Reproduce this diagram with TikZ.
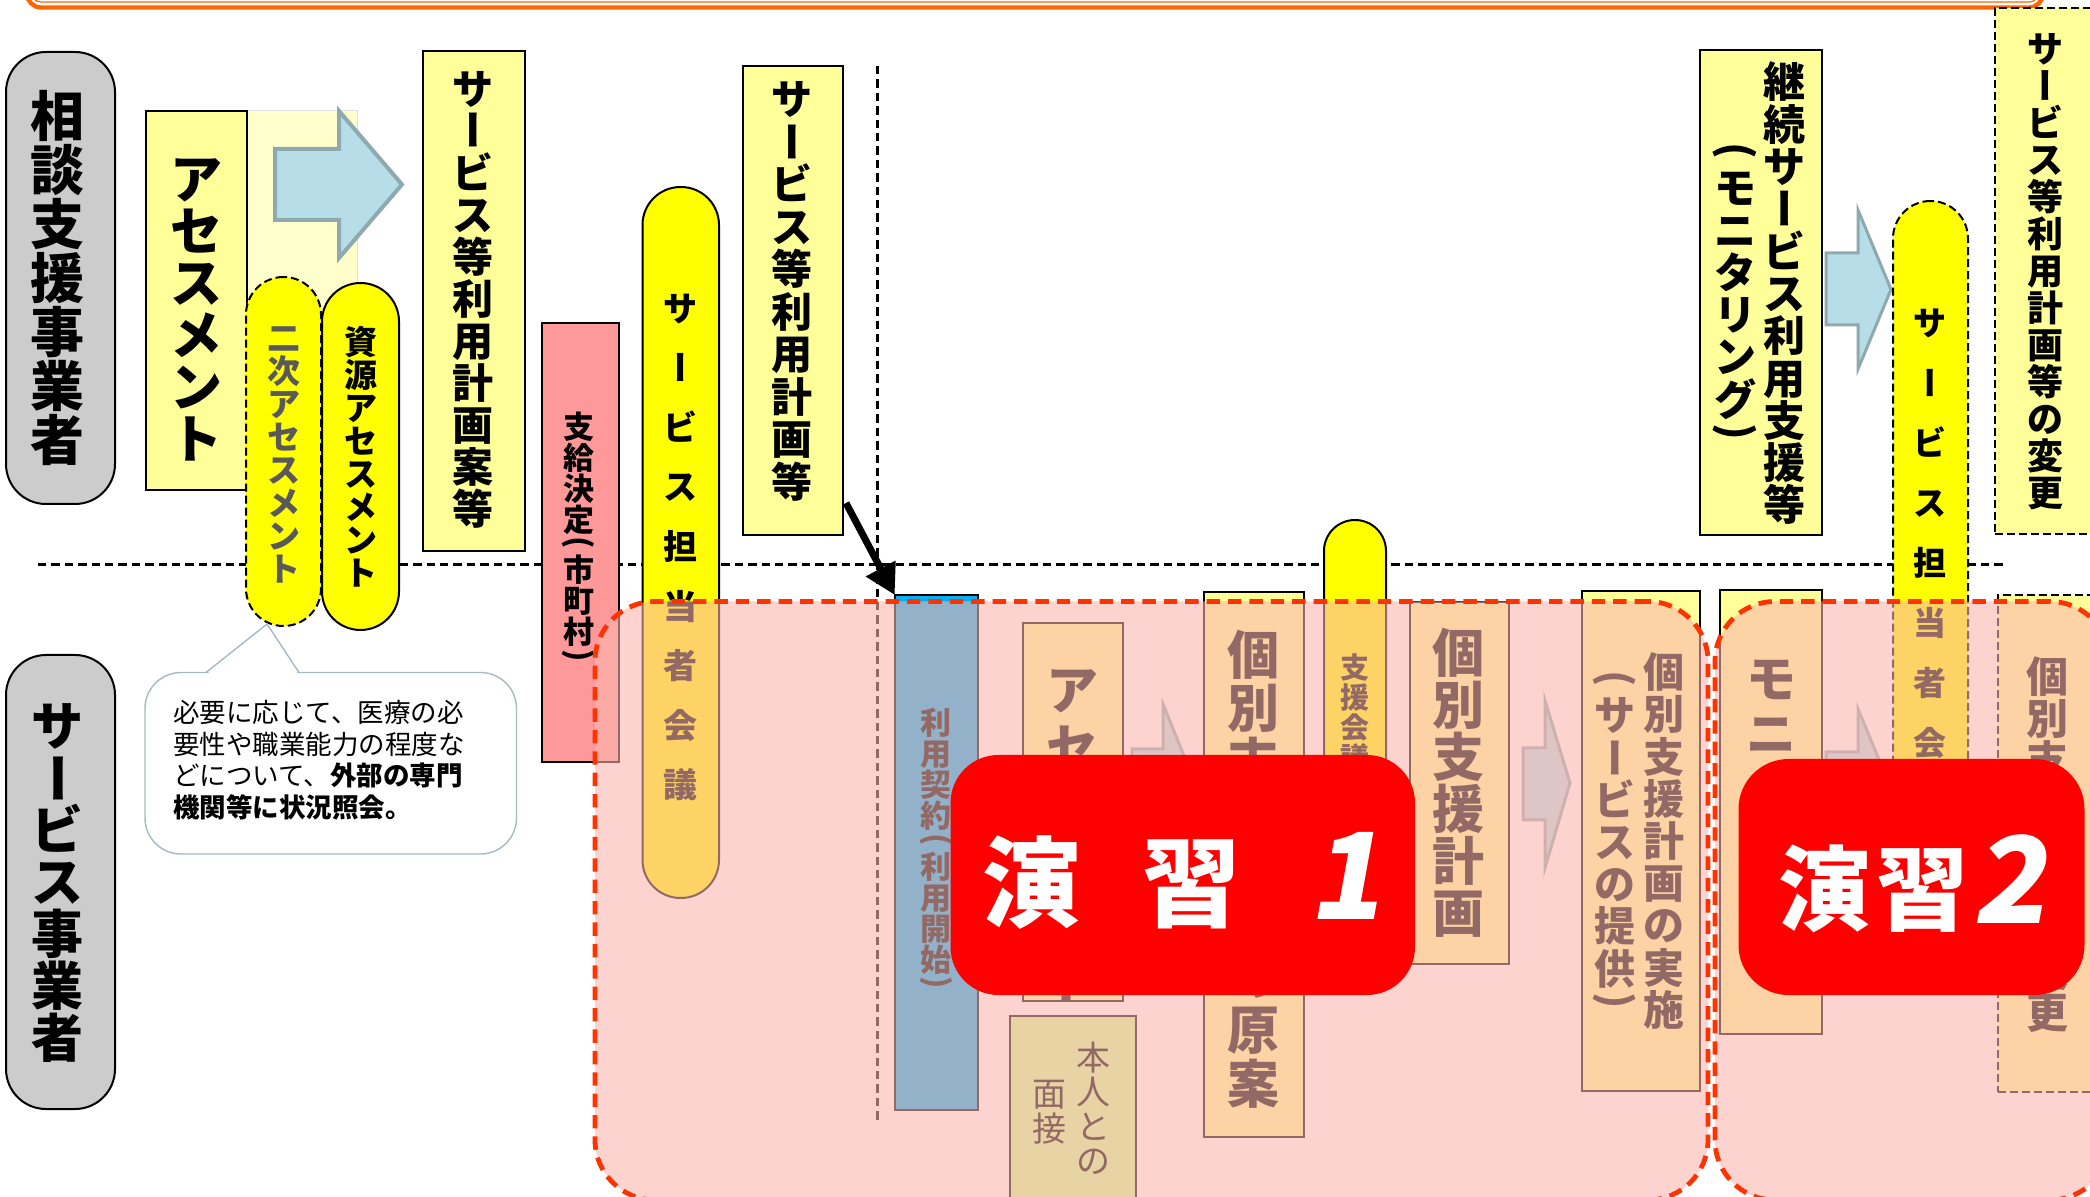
\documentclass[tikz,border=0pt]{standalone}
\usepackage{fontspec}
\setmainfont{Noto Sans CJK JP}
\newfontfamily\digfont[FakeSlant=0.18]{Noto Sans CJK JP}
\usepackage{graphicx}
\usetikzlibrary{arrows.meta,fit}
\definecolor{lyel}{HTML}{FFFF99}
\definecolor{yel}{HTML}{FFFF00}
\definecolor{gbox}{HTML}{CCCCCC}
\definecolor{salm}{HTML}{FF9999}
\definecolor{cyanb}{HTML}{00B0F0}
\definecolor{lgreen}{HTML}{CCFF99}
\definecolor{arrf}{HTML}{B7DEE8}
\definecolor{arrd}{HTML}{8EAAAE}
\definecolor{paley}{HTML}{FFFFCC}
\definecolor{ovf}{HTML}{FDB5AE}
\definecolor{ovd}{HTML}{FF3300}
\definecolor{orA}{HTML}{FF6600}
\definecolor{calb}{HTML}{A3BAC2}
\definecolor{dgray}{HTML}{595959}
\makeatletter
\def\vt@bar{ー}\def\vt@lp{（}\def\vt@rp{）}
\newcommand\vtx[2][0pt]{%
 \vbox{\offinterlineskip
 \@tfor\vt@c:=#2\do{%
  \ifx\vt@c\vt@bar
    \hbox to 1em{\hss\rotatebox[origin=c]{-90}{\hbox{ー\vrule height .88em depth .12em width 0pt}}\hss}%
  \else\ifx\vt@c\vt@lp
    \kern.06em\hbox to 1em{\hss\rotatebox[origin=c]{-90}{(}\hss}\kern.06em
  \else\ifx\vt@c\vt@rp
    \kern.06em\hbox to 1em{\hss\rotatebox[origin=c]{-90}{)}\hss}\kern.06em
  \else
    \hbox to 1em{\hss\vt@c\hss\vrule height .88em depth .12em width 0pt}%
  \fi\fi\fi
  \kern#1}%
 \unkern}}
\makeatother
\tikzset{
 shp/.style={draw=black, line width=1pt, inner sep=0pt, outer sep=0pt},
 dsh/.style={dash pattern=on 4pt off 2pt},
 vtb/.style={inner sep=0pt, font=\bfseries\fontsize{#1}{#1}\selectfont},
 vtr/.style={inner sep=0pt, font=\fontsize{#1}{#1}\selectfont},
 blockarrow/.style={fill=arrf, draw=arrd, line width=1.5pt, line join=miter},
 guide/.style={line width=1.5pt, dash pattern=on 4.2pt off 2.5pt},
 ovl/.style={inner sep=0pt, outer sep=0pt, fill=ovf, fill opacity=0.585, draw=ovd, draw opacity=1, line width=2.4pt, dash pattern=on 6.7pt off 4pt, rounded corners=30pt},
 exbox/.style={inner sep=0pt, outer sep=0pt, fill=red, rounded corners=24pt},
 extext/.style={anchor=base, inner sep=0pt, text=white, font=\bfseries\fontsize{#1}{#1}\selectfont},
 cbord/.style={draw=calb, line width=0.7pt},
}
\begin{document}
\begin{tikzpicture}[x=0.5pt,y=-0.5pt]
\useasboundingbox (0,0) rectangle (2090,1197);
\clip (0,0) rectangle (2090,1197);
\fill[white] (0,0) rectangle (2090,1197);

% top frame
\draw[orA, line width=2.2pt, rounded corners=7pt] (27,-40) -- (27,7.5) -- (2043,7.5) -- (2043,-40);
\draw[orA, line width=0.6pt, rounded corners=5pt] (31,-40) -- (31,2) -- (2039,2) -- (2039,-40);

% guide lines
\coordinate (hL) at (38,565); \coordinate (hR) at (2005,565);
\draw[guide] (hL) -- (hR);
\coordinate (vT) at (877,66); \coordinate (vB) at (877,1124);
\draw[guide] (vT) -- (vB);

% upper row
\node[fit={(247,111) (357,500)}, inner sep=0pt, outer sep=0pt, fill=paley, draw=black!12, line width=0.5pt] (pale) {};
\draw[blockarrow, line width=2pt] (275,149) -- (339,149) -- (339,111) -- (402,184.5) -- (339,258) -- (339,220) -- (275,220) -- cycle;

\node[shp, fill=gbox, rounded corners=20pt, fit={(6,52) (115,504)}] (soudan) {};
\node[vtb=27pt] (tsoudan) at (58,278) {\vtx{相談支援事業者}};
\node[shp, fill=gbox, rounded corners=20pt, fit={(6,655) (115,1109)}] (jigyo) {};
\node[vtb=26pt] (tjigyo) at (58,882) {\vtx{サービス事業者}};

\node[shp, fill=lyel, fit={(146,111) (247,490)}] (assess) {};
\node[vtb=26pt] (tassess) at (196,309) {\vtx{アセスメント}};

\node[shp, dsh, fill=yel, rounded corners=18.75pt, fit={(246,277) (321,626)}] (niji) {};
\node[vtb=16.5pt, text=dgray] (tniji) at (283.5,453) {\vtx{二次アセスメント}};
\node[shp, fill=yel, rounded corners=19.25pt, fit={(322,283) (399,630)}] (shigen) {};
\node[vtb=16.5pt] (tshigen) at (360.5,457) {\vtx{資源アセスメント}};

\node[shp, fill=lyel, fit={(423,51) (525,551)}] (sa1) {};
\node[vtb=20.5pt] (tsa1) at (473,298.5) {\vtx[0.5pt]{サービス等利用計画案等}};

\node[shp, fill=salm, fit={(542,323) (619,762)}] (shikyu) {};
\node[vtb=15.5pt] (tshikyu) at (578.5,539) {\vtx{支給決定（市町村）}};

\node[shp, fill=yel, rounded corners=19pt, fit={(642.5,187) (719,898)}] (kaigi1) {};
\node[vtb=17pt] (tkaigi1) at (680.5,546.5) {\vtx[12.8pt]{サービス担当者会議}};

\node[shp, fill=lyel, fit={(743,66) (843,535)}] (sa2) {};
\node[vtb=20.5pt] (tsa2) at (792,290.5) {\vtx[0.75pt]{サービス等利用計画等}};

\node[shp, fill=lyel, fit={(1700,50.5) (1821.5,535)}] (keizoku) {};
\node[vtb=21pt] (tkei1) at (1784,293.5) {\vtx[0.15pt]{継続サービス利用支援等}};
\node[vtb=21pt] (tkei2) at (1735,293.5) {\vtx[0.15pt]{（モニタリング）}};

\draw[blockarrow] (1826,253) -- (1858,253) -- (1858,210) -- (1891,289.5) -- (1858,369) -- (1858,325) -- (1826,325) -- cycle;

\node[shp, dsh, fill=yel, rounded corners=18.75pt, fit={(1893,201) (1968,880)}] (kaigi2) {};
\node[vtb=16.5pt] (tkaigi2) at (1930,562.5) {\vtx[13.5pt]{サービス担当者会議}};

\node[shp, dsh, fill=lyel, fit={(1995,8) (2110,534)}] (henko) {};
\node[vtb=18pt] (thenko) at (2045,270.5) {\vtx[0.5pt]{サービス等利用計画等の変更}};

% lower row
\node[shp, dsh, fill=lyel, fit={(1998,595) (2110,1092)}] (henko2) {};
\node[vtb=21pt] (thenko2) at (2047,845) {\vtx{個別支援計画の変更}};

\node[shp, fill=cyanb, fit={(894.7,595) (978,1110)}] (riyou) {};
\node[vtb=15.5pt] (triyou) at (936,851) {\vtx{利用契約（利用開始）}};

\node[shp, fill=lyel, fit={(1023,623) (1123,1000.6)}] (assess2) {};
\node[vtb=26pt] (tassess2) at (1072,835) {\vtx[3pt]{アセスメント}};

\node[shp, fill=lgreen, fit={(1010,1016) (1136,1215)}] (honnin) {};
\node[vtr=17pt] (thon1) at (1093,1109) {\vtx[0.25pt]{本人との}};
\node[vtr=17pt] (thon2) at (1049,1111) {\vtx[0.25pt]{面接}};

\draw[blockarrow] (1132,749) -- (1163,749) -- (1163,704) -- (1195,783) -- (1163,862) -- (1163,817) -- (1132,817) -- cycle;

\node[shp, fill=lyel, fit={(1204,592) (1304,1136.5)}] (genan) {};
\node[vtb=26pt] (tgenan) at (1253,869) {\vtx[0.8pt]{個別支援計画の原案}};

\node[shp, fill=yel, rounded corners=15.5pt, fit={(1324,520) (1386,900)}] (skaigi) {};
\node[vtb=14.5pt] (tskaigi) at (1355,712.5) {\vtx[0.5pt]{支援会議}};

\node[shp, fill=lyel, fit={(1409.6,601.6) (1508.7,964)}] (kobetsu) {};
\node[vtb=26pt] (tkobetsu) at (1458,783) {\vtx{個別支援計画}};

\draw[blockarrow] (1523,748) -- (1545,748) -- (1545,700.6) -- (1570,783) -- (1545,867.7) -- (1545,820) -- (1523,820) -- cycle;

\node[shp, fill=lyel, fit={(1582,591) (1700,1090.5)}] (jisshi) {};
\node[vtb=20.5pt] (tjis1) at (1664,841) {\vtx[0.6pt]{個別支援計画の実施}};
\node[vtb=20.5pt] (tjis2) at (1615,842) {\vtx[0.6pt]{（サービスの提供）}};

\node[shp, fill=lyel, fit={(1720,590) (1821.5,1033.6)}] (moni) {};
\node[vtb=25pt] (tmoni) at (1771,816) {\vtx[2.5pt]{モニタリング}};

\draw[blockarrow] (1826,752) -- (1858,752) -- (1858,709) -- (1891,788.5) -- (1858,868) -- (1858,824) -- (1826,824) -- cycle;

% callout
\draw[cbord, fill=white, rounded corners=18pt] (145,672.5) rectangle (516.5,854);
\fill[white] (207,674) -- (267,624) -- (298,674) -- cycle;
\coordinate (ctip) at (267,624);
\draw[cbord] (206,672.5) -- (ctip) -- (299,672.5);
\node[anchor=north west, inner sep=0pt, align=left, font=\fontsize{13.25pt}{15.75pt}\selectfont] (tcall) at (173,700) {必要に応じて、医療の必\\要性や職業能力の程度な\\どについて、\textbf{外部の専門}\\\textbf{機関等に状況照会。}};

% translucent overlays
\node[ovl, fit={(595,601.5) (1708,1200)}] (ov1) {};
\node[ovl, fit={(1715,601.5) (2110,1200)}] (ov2) {};

% connector
\coordinate (arrS) at (846,503);
\draw[line width=3.5pt, -{Triangle[length=15pt,width=16pt]}] (arrS) -- (riyou.north west);

% exercise labels
\node[exbox, fit={(950.5,755) (1415,995)}] (ex1) {};
\node[extext=49pt] (tex1) at (1182,920) {演\hspace{31pt}習\hspace{34pt}{\digfont\bfseries\fontsize{60pt}{60pt}\selectfont 1}};
\node[exbox, rounded corners=25pt, fit={(1738.5,759) (2084.5,995)}] (ex2) {};
\node[extext=46pt] (tex2) at (1912,923.5) {演\hspace{3pt}習\hspace{2pt}{\digfont\bfseries\fontsize{60pt}{60pt}\selectfont 2}};
\end{tikzpicture}
\end{document}
